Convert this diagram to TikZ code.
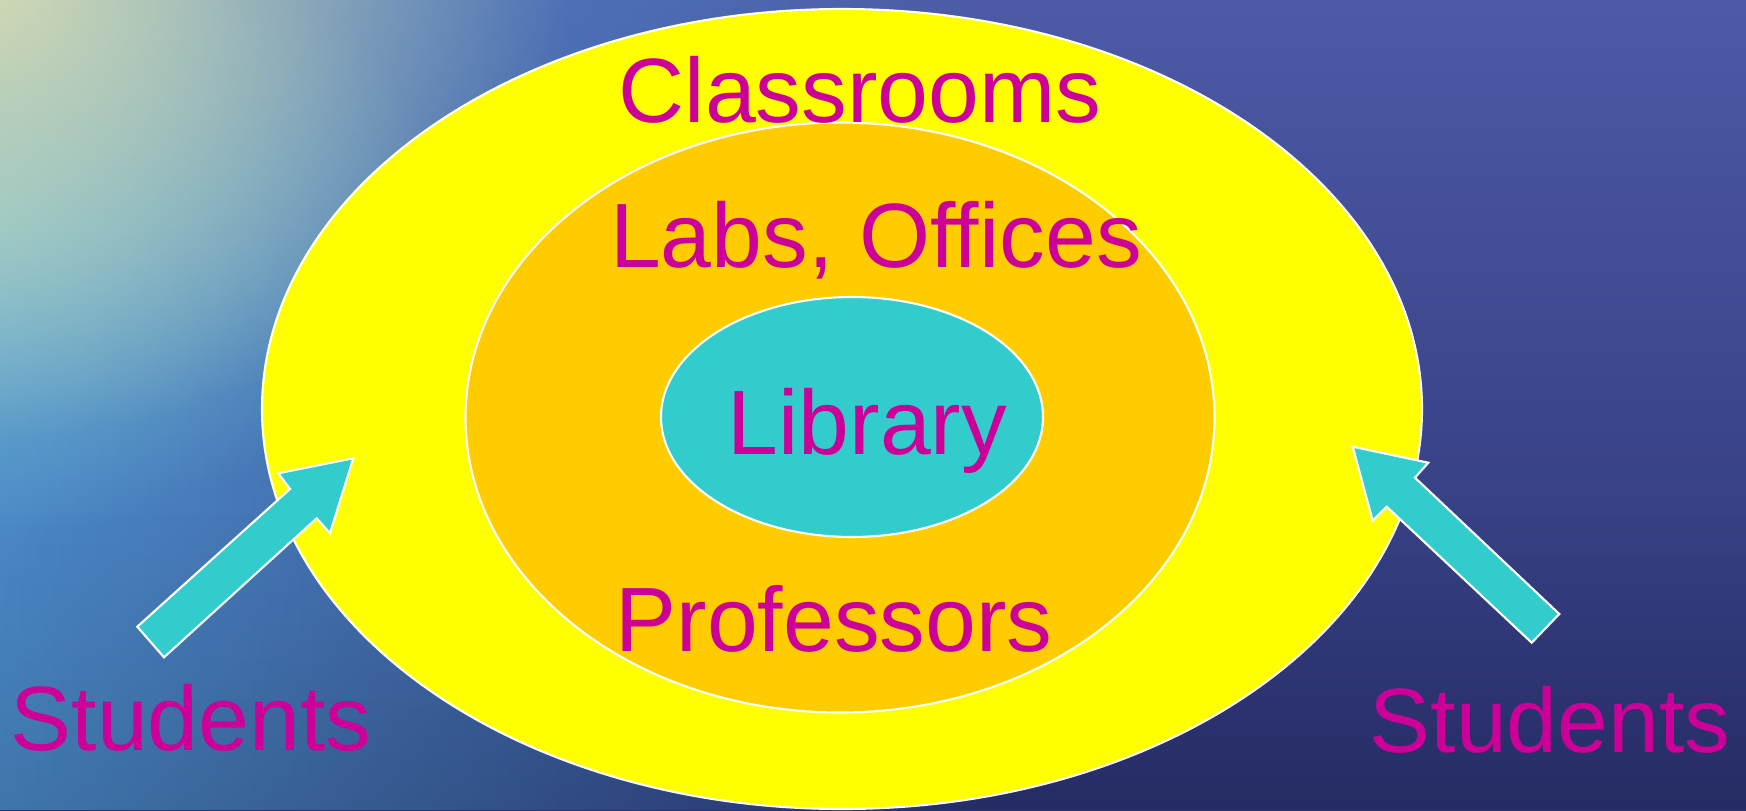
\documentclass[tikz,border=0pt]{standalone}
\usepackage{fontspec}
\setmainfont{Liberation Sans}
\usepackage{xcolor}
\usepackage{tikz}
\usetikzlibrary{fadings}
\definecolor{sky}{HTML}{4D5AA6}
\definecolor{deep}{HTML}{2B3272}
\definecolor{sea}{HTML}{4E96D2}
\definecolor{glow}{HTML}{D6DCB2}
\definecolor{foam}{HTML}{86D2DA}
\definecolor{ring}{HTML}{FFFF00}
\definecolor{mid}{HTML}{FFCC00}
\definecolor{core}{HTML}{33CCCC}
\definecolor{ink}{HTML}{CC0099}
\tikzfading[name=softspot, inner color=transparent!0, outer color=transparent!100]
\tikzset{
  zone/.style={draw=white, line width=0.6pt},
  pointer/.style={fill=core, draw=white, line width=0.6pt, line join=miter},
  lab/.style={text=ink, anchor=base, inner sep=0pt, font=\fontsize{26}{30}\selectfont},
}

\begin{document}
\begin{tikzpicture}
  % backdrop
  \useasboundingbox (0,0) rectangle (17.46,8.10);
  \shade[top color=sky, bottom color=deep] (0,0) rectangle (17.46,8.10);
  \fill[sea, opacity=0.85, path fading=east] (0,0) rectangle (10.0,8.10);
  \fill[black, opacity=0.12, path fading=north] (0,0) rectangle (17.46,3.0);
  \fill[foam, opacity=0.75, path fading=softspot] (-0.5,5.9) ellipse (5.0 and 3.2);
  \fill[glow, path fading=softspot] (-0.3,8.3) ellipse (6.0 and 4.6);
  % rings
  \filldraw[zone, fill=ring] (8.42,4.01) ellipse (5.80 and 4.00);
  \filldraw[zone, fill=mid] (8.40,3.925) ellipse (3.745 and 2.95);
  \filldraw[zone, fill=core] (8.52,3.93) ellipse (1.91 and 1.20);
  % labels
  \node[lab] (classrooms) at (8.60,6.875) {Classrooms};
  \node[lab] (labs) at (8.76,5.43) {Labs, Offices};
  \node[lab] (library) at (8.675,3.56) {Library};
  \node[lab] (profs) at (8.34,1.59) {Professors};
  \node[lab] (studL) at (1.91,0.60) {Students};
  \node[lab] (studR) at (15.50,0.58) {Students};
  % pointers
  \filldraw[pointer] (3.533,3.517) -- (2.783,3.367) -- (2.90,3.21) -- (1.373,1.833)
    -- (1.64,1.527) -- (3.167,2.917) -- (3.30,2.767) -- cycle;
  \filldraw[pointer] (13.527,3.633) -- (14.283,3.473) -- (14.15,3.323) -- (15.593,1.96)
    -- (15.317,1.673) -- (13.867,3.033) -- (13.727,2.893) -- cycle;
\end{tikzpicture}
\end{document}
